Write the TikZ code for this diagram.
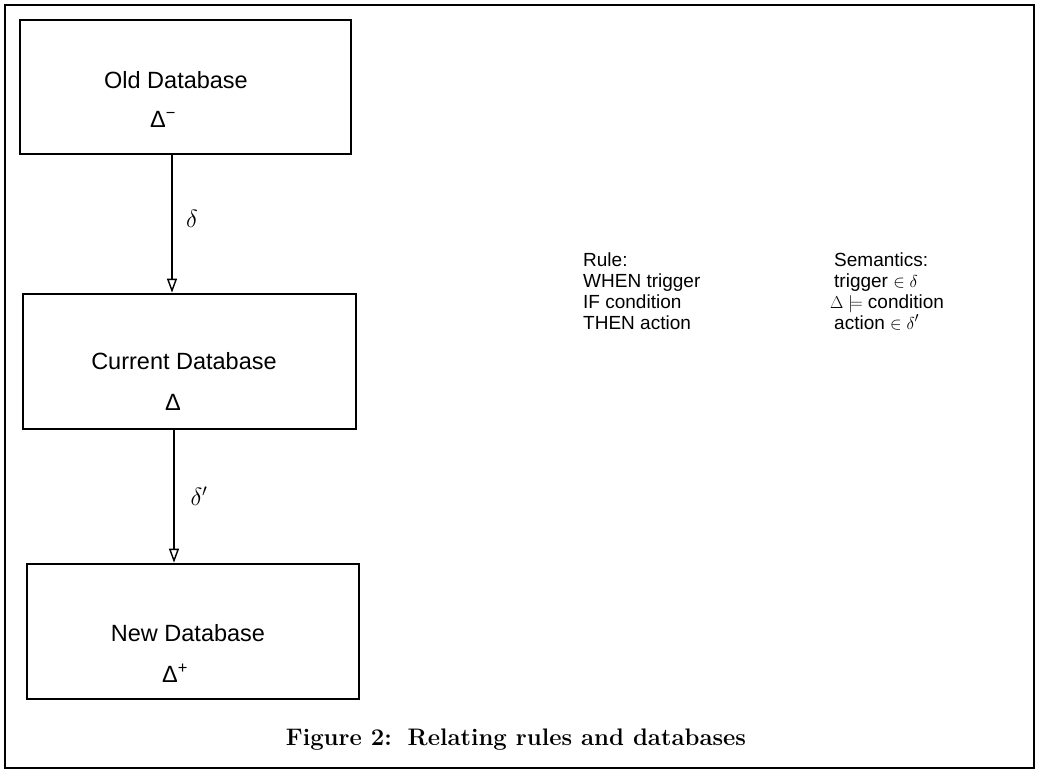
\documentclass[tikz,border=0pt]{standalone}
\usepackage{fontspec}
\newfontfamily\sansf{Liberation Sans}
\usetikzlibrary{arrows.meta}
\tikzset{
  frame/.style={draw, line width=2pt, inner sep=0pt},
  dbbox/.style={draw, line width=2.8pt, inner sep=0pt},
  boxtext/.style={font=\sansf\fontsize{23.5}{28}\selectfont, inner sep=0pt},
  lbl/.style={font=\fontsize{24}{28}\selectfont, inner sep=0pt},
  ruleline/.style={font=\sansf\fontsize{19}{21}\selectfont, anchor=base west, inner sep=0pt},
  arr/.style={line width=1.4pt, -{Triangle[open, length=14pt, width=10pt, line width=1.4pt]}},
}
\begin{document}
\begin{tikzpicture}[x=1pt,y=-1pt]
\useasboundingbox (0,0) rectangle (1037,772);
\node[frame, minimum width=1029pt, minimum height=763pt] (outer) at (519.5,386.5) {};
% boxes
\node[dbbox, minimum width=331pt, minimum height=134pt] (old) at (185.5,87) {};
\node[dbbox, minimum width=333pt, minimum height=135pt] (cur) at (189.5,361.5) {};
\node[dbbox, minimum width=332pt, minimum height=135pt] (new) at (193,631.5) {};
% box texts
\node[boxtext] (oldname) at (176,80) {Old Database};
\node[boxtext] (oldsym) at (163,119) {Δ\textsuperscript{−}};
\node[boxtext] (curname) at (184,361) {Current Database};
\node[boxtext] (cursym) at (173,402) {Δ};
\node[boxtext] (newname) at (188,633) {New Database};
\node[boxtext] (newsym) at (175,673) {Δ\textsuperscript{+}};
% arrows
\coordinate (a1) at (172,0);
\coordinate (a2) at (174,0);
\draw[arr] (old.south -| a1) -- (cur.north -| a1);
\draw[arr] (cur.south -| a2) -- (new.north -| a2);
\node[lbl] (d1) at (192,219) {$\delta$};
\node[lbl] (d2) at (199,496) {$\delta'$};
% rule text
\node[ruleline] (r1) at (583,266) {Rule:};
\node[ruleline] (r2) at (583,287) {WHEN trigger};
\node[ruleline] (r3) at (583,308) {IF condition};
\node[ruleline] (r4) at (583,329) {THEN action};
\node[ruleline] (s1) at (834,266) {Semantics:};
\node[ruleline] (s2) at (834,287) {trigger $\in\delta$};
\node[ruleline] (s3) at (830,308) {$\Delta\models$ condition};
\node[ruleline] (s4) at (834,329) {action $\in\delta'$};
% caption
\node[font=\bfseries\fontsize{23.9}{26}\selectfont, inner sep=0pt] (cap) at (516,740) {Figure 2:\, Relating rules and databases};
\end{tikzpicture}
\end{document}
